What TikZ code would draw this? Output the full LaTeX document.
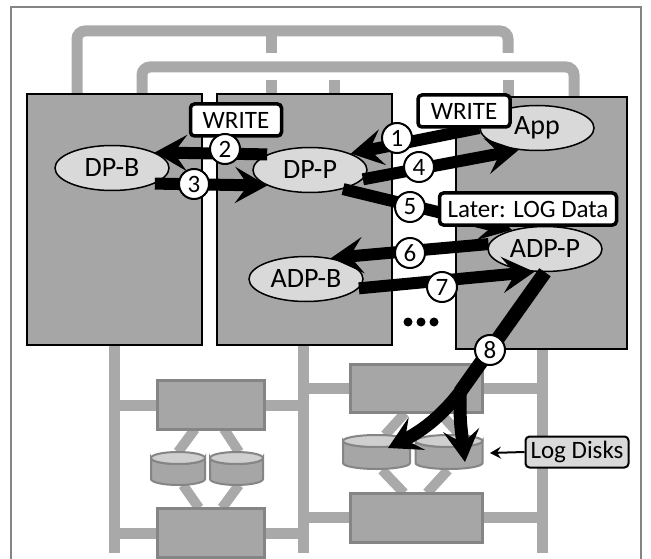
\documentclass[tikz,border=0pt]{standalone}
\usepackage{fontspec}
\setmainfont{Carlito}
\usetikzlibrary{arrows.meta,shapes.geometric}
\definecolor{boxgray}{HTML}{A6A6A6}
\definecolor{busgray}{HTML}{A9A9A9}
\definecolor{lightfill}{HTML}{D9D9D9}
\definecolor{cyltopc}{HTML}{CFCFCF}
\definecolor{edgegray}{HTML}{858585}
\newcommand\mycyl[4]{%
  \draw[cylbody] ({#1-#2},#3) -- ({#1-#2},#4) arc[start angle=180,end angle=0,x radius=#2,y radius=6] -- ({#1+#2},#3) arc[start angle=0,end angle=180,x radius=#2,y radius=6] -- cycle;
  \draw[cyltop] (#1,#3) ellipse[x radius=#2, y radius=6];
}
\begin{document}
\begin{tikzpicture}[x=1pt,y=-1pt,
  bus/.style={busgray, line width=11pt, rounded corners=8pt},
  server/.style={draw=black, fill=boxgray, line width=1.5pt},
  storebox/.style={draw=edgegray, fill=boxgray, line width=3pt},
  cylbody/.style={draw=edgegray, fill=boxgray, line width=2pt},
  cyltop/.style={draw=edgegray, fill=cyltopc, line width=2pt},
  proc/.style={ellipse, draw=black, fill=lightfill, line width=1.5pt, minimum width=114pt, minimum height=45pt, inner sep=0pt, font=\fontsize{28}{30}\selectfont},
  tag/.style={draw=black, fill=white, line width=3.5pt, rounded corners=4pt, font=\fontsize{25}{27}\selectfont, inner xsep=4pt, inner ysep=0pt, minimum height=32pt},
  disktag/.style={draw=black, fill=lightfill, line width=2pt, rounded corners=4pt, font=\fontsize{25}{27}\selectfont, inner xsep=4pt, inner ysep=0pt, minimum height=31pt, minimum width=103pt},
  num/.style={circle, draw=black, fill=white, line width=2pt, minimum size=30pt, inner sep=0pt, font=\fontsize{25}{27}\selectfont},
  flow/.style={black, line width=12pt, -{Stealth[length=32pt,width=36pt,inset=13pt]}},
  flowb/.style={black, line width=13pt, -{Stealth[length=32pt,width=36pt,inset=13pt]}},
  thinarrow/.style={black, line width=2pt, -{Stealth[length=11pt,width=12pt,inset=4pt]}},
]
\useasboundingbox (0,0) rectangle (651,559);
% outer frame
\draw[edgegray, line width=2pt] (11,565) -- (11,7) -- (641,7) -- (641,565);
% upper buses
\draw[bus] (77,95) -- (77,31) -- (508,31) -- (508,53);
\draw[bus] (271,31) -- (271,53);
\draw[bus] (142,95) -- (142,67) -- (574,67) -- (574,98);
\draw[bus] (271,80) -- (271,95);
\draw[bus] (334,80) -- (334,95);
\draw[bus] (508,80) -- (508,98);
% lower buses
\draw[bus] (114,345) -- (114,553);
\draw[bus] (303,345) -- (303,553);
\draw[bus] (542,349) -- (542,553);
\draw[bus] (114,405) -- (157,405) (264,405) -- (303,405);
\draw[bus] (114,533) -- (157,533) (264,533) -- (303,533);
\draw[bus] (303,388) -- (350,388) (482,388) -- (542,388);
\draw[bus] (303,517) -- (350,517) (482,517) -- (542,517);
% storage diagonals
\draw[busgray, line width=10pt] (195,429) -- (178,452) (224,429) -- (239,452) (183,485) -- (199,508) (239,485) -- (222,508);
\draw[busgray, line width=10pt] (405,413) -- (385,435) (440,413) -- (460,435) (382,470) -- (404,493) (448,470) -- (427,493);
% servers
\draw[server] (27,94) rectangle (202,345);
\draw[server] (217,94) rectangle (392,345);
\draw[server] (456,97) rectangle (627,349);
% storage boxes
\draw[storebox] (157,380) rectangle (264,429);
\draw[storebox] (157,508) rectangle (264,557);
\draw[storebox] (350,364) rectangle (482,412);
\draw[storebox] (350,493) rectangle (482,542);
% cylinders
\mycyl{178}{27}{458}{479}
\mycyl{236.5}{26.5}{458}{479}
\mycyl{376.5}{33.5}{441}{463}
\mycyl{449}{33.5}{441}{463}
% processes
\node[proc] (dpb) at (112,168) {DP-B};
\node[proc] (dpp) at (310,170) {DP-P};
\node[proc] (app) at (537,128) {App};
\node[proc] (adpp) at (545,249) {ADP-P};
\node[proc] (adpb) at (306,279) {ADP-B};
% coordinates
\coordinate (b8) at (460,392);
\coordinate (ld) at (388,448);
\coordinate (rd) at (465,462);
\coordinate (cylr) at (490,453);
% flows
\draw[flow] (app.west) -- (dpp.north east);
\draw[flow] (dpp.160) -- (dpb.20);
\draw[flow] (dpb.-20) -- (dpp.200);
\draw[flow] (dpp.-10) -- (app.230);
\draw[flow] (dpp.-30) -- (adpp.150);
\draw[flow] (adpp.175) -- (adpb.40);
\draw[flow] (adpb.-10) -- (adpp.245);
\draw[black, line width=14pt] (adpp.south) -- (b8);
\draw[flowb] (b8) .. controls (440,418) and (420,432) .. (ld);
\draw[flowb] (b8) .. controls (460,420) .. (rd);
% tags
\node[tag, minimum width=91pt] (w1) at (236,120) {WRITE};
\node[tag, minimum width=92pt] (w2) at (464,111) {WRITE};
\node[tag, minimum width=177pt] (later) at (528,209) {Later: LOG Data};
\node[disktag] (logd) at (577,452) {Log Disks};
\draw[thinarrow] (logd.west) -- (cylr);
% numbers
\node[num] (n1) at (397,138) {1};
\node[num] (n2) at (225,149) {2};
\node[num] (n3) at (194,184) {3};
\node[num] (n4) at (419,167) {4};
\node[num] (n5) at (410,207) {5};
\node[num] (n6) at (410,253) {6};
\node[num] (n7) at (442,287) {7};
\node[num] (n8) at (490,350) {8};
% dots
\fill (408,322) circle (4.5) (421,322) circle (4.5) (434,322) circle (4.5);
\end{tikzpicture}
\end{document}
